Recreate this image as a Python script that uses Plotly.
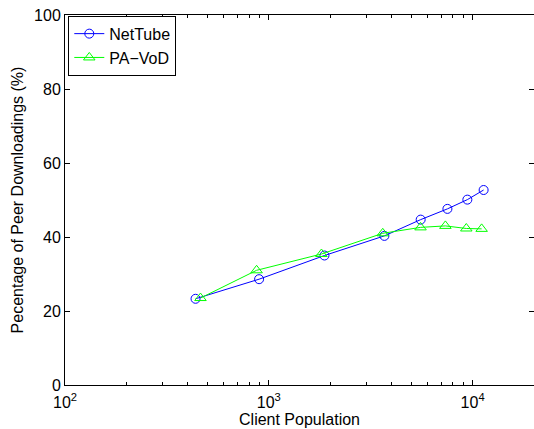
import plotly.graph_objects as go

# Data
nettube_x = [437, 896, 1875, 3690, 5560, 7520, 9420, 11320]
nettube_y = [23.3, 28.6, 35.0, 40.3, 44.7, 47.6, 50.1, 52.7]
pavod_x = [462, 871, 1812, 3622, 5550, 7350, 9310, 11070]
pavod_y = [23.5, 31.0, 35.4, 41.0, 42.6, 43.0, 42.3, 42.2]

x_tickvals = [100, 1000, 10000]
x_ticktext = ["10<sup>2</sup>", "10<sup>3</sup>", "10<sup>4</sup>"]
x_minor = [200, 300, 400, 500, 600, 700, 800, 900,
           2000, 3000, 4000, 5000, 6000, 7000, 8000, 9000]
y_tickvals = [0, 20, 40, 60, 80, 100]

fig = go.Figure()
fig.add_trace(go.Scatter(
    x=nettube_x, y=nettube_y, name="NetTube", mode="lines+markers",
    line=dict(color="#0000ff", width=1),
    marker=dict(symbol="circle-open", size=9, color="#0000ff", line=dict(width=1)),
))
fig.add_trace(go.Scatter(
    x=pavod_x, y=pavod_y, name="PA\u2212VoD", mode="lines+markers",
    line=dict(color="#00ff00", width=1),
    marker=dict(symbol="triangle-up-open", size=10, color="#00ff00", line=dict(width=1)),
))

axis_font = dict(family="Liberation Sans, Arial, sans-serif", size=16, color="black")

fig.update_layout(
    width=534, height=429,
    margin=dict(l=65, r=0, t=15, b=44),
    paper_bgcolor="white", plot_bgcolor="white",
    font=axis_font,
    showlegend=True,
    legend=dict(
        x=0.007, y=0.998, xanchor="left", yanchor="top",
        bgcolor="white", bordercolor="black", borderwidth=1,
        font=dict(family="Liberation Sans, Arial, sans-serif", size=16, color="black"),
        tracegroupgap=0, itemwidth=30,
    ),
    xaxis=dict(
        type="log", range=[2, 4.30103],
        tickmode="array", tickvals=x_tickvals, ticktext=x_ticktext,
        ticks="inside", ticklen=5, tickcolor="black",
        minor=dict(tickmode="array", tickvals=x_minor, ticks="inside", ticklen=3, tickcolor="black"),
        showline=True, linecolor="black", linewidth=1, mirror="ticks",
        showgrid=False, zeroline=False,
        ticklabelstandoff=3,
        title=dict(text="Client Population", standoff=0, font=axis_font),
        tickfont=axis_font,
    ),
    yaxis=dict(
        range=[0, 100], tickmode="array", tickvals=y_tickvals,
        ticks="inside", ticklen=5, tickcolor="black",
        showline=True, linecolor="black", linewidth=1, mirror="ticks",
        showgrid=False, zeroline=False,
        title=dict(text="Pecentage of Peer Downloadings (%)", standoff=6, font=axis_font),
        tickfont=axis_font,
    ),
)

fig.write_html("out.html")
